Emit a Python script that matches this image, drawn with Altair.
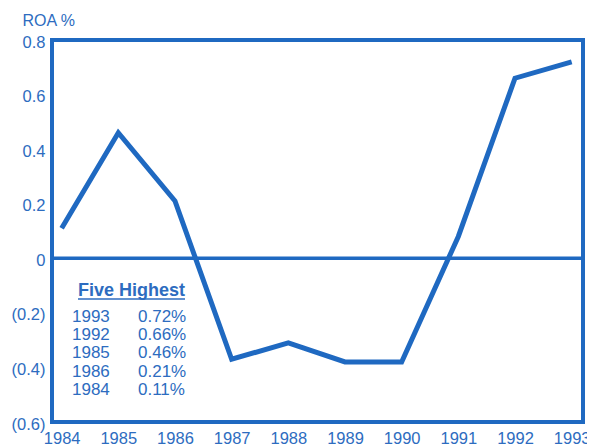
import altair as alt
import pandas as pd

years = [1984, 1985, 1986, 1987, 1988, 1989, 1990, 1991, 1992, 1993]
roa = [0.11, 0.46, 0.21, -0.37, -0.31, -0.38, -0.38, 0.08, 0.66, 0.72]

top_years = ["1993", "1992", "1985", "1986", "1984"]
top_values = ["0.72%", "0.66%", "0.46%", "0.21%", "0.11%"]

BLUE = "#1f69c1"
TEXT = "#2d6cc0"
FONT = "Liberation Sans"

W, H = 531, 382

df = pd.DataFrame({"year": years, "roa": roa})
tbl = pd.DataFrame({"yr": top_years, "val": top_values, "i": list(range(len(top_years)))})

xscale = alt.Scale(domain=[1983.83, 1993.2], nice=False, zero=False)
yscale = alt.Scale(domain=[-0.6, 0.8], nice=False)

label_expr = ("datum.value < 0 ? '(' + format(-datum.value, '.1f') + ')' : "
              "(datum.value == 0 ? '0' : format(datum.value, '.1f'))")

line = alt.Chart(df).mark_line(color=BLUE, strokeWidth=5, strokeJoin="miter").encode(
    x=alt.X("year:Q", scale=xscale,
            axis=alt.Axis(values=years, format="d", title=None, ticks=False, domain=False,
                          grid=False, labelFont=FONT, labelFontSize=16.5, labelColor=TEXT,
                          labelPadding=8, labelFlush=False)),
    y=alt.Y("roa:Q", scale=yscale,
            axis=alt.Axis(values=[-0.6, -0.4, -0.2, 0, 0.2, 0.4, 0.6, 0.8], labelExpr=label_expr,
                          title="ROA %", titleAngle=0, titleAlign="left", titleBaseline="middle",
                          titleX=-30, titleY=-20, titleFont=FONT, titleFontSize=16,
                          titleFontWeight="normal", titleColor=TEXT,
                          ticks=False, domain=False, grid=False, labelFont=FONT,
                          labelFontSize=16.5, labelColor=TEXT, labelPadding=7, labelOffset=2)),
)

zero = alt.Chart(pd.DataFrame({"z": [0]})).mark_rule(color=BLUE, strokeWidth=3.5).encode(
    y=alt.Y("z:Q", scale=yscale)
)

head = alt.Chart(pd.DataFrame({"t": ["Five Highest"]})).mark_text(
    align="left", baseline="middle", font=FONT, fontSize=18, fontWeight="bold", color=TEXT
).encode(text="t:N", x=alt.value(26), y=alt.value(250.7))

underline = alt.Chart(pd.DataFrame({"t": ["u"]})).mark_rule(color=TEXT, strokeWidth=1.5).encode(
    x=alt.value(26), x2=alt.value(133), y=alt.value(259)
)

rows_y = alt.Y("py:Q", scale=None)
yr_text = alt.Chart(tbl).transform_calculate(py="276.7 + 18.3 * datum.i").mark_text(
    align="left", baseline="middle", font=FONT, fontSize=17, color=TEXT
).encode(text="yr:N", x=alt.value(20), y=rows_y)

val_text = alt.Chart(tbl).transform_calculate(py="276.7 + 18.3 * datum.i").mark_text(
    align="left", baseline="middle", font=FONT, fontSize=17, color=TEXT
).encode(text="val:N", x=alt.value(86), y=rows_y)

chart = alt.layer(zero, line, head, underline, yr_text, val_text).properties(
    width=W, height=H,
    autosize=alt.AutoSizeParams(type="none"),
    padding={"left": 44, "top": 32, "right": 4, "bottom": 24},
    background="white",
).configure_view(stroke=BLUE, strokeWidth=4)

chart.save("out.html", embed_options={"renderer": "svg", "actions": False})
